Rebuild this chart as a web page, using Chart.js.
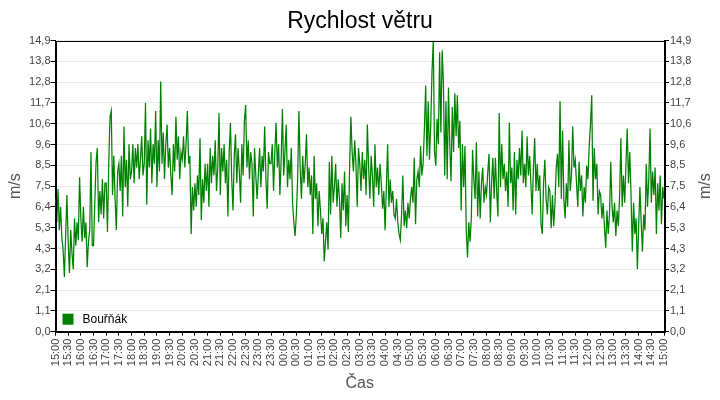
<!DOCTYPE html>
<html>
<head>
<meta charset="utf-8">
<script src="https://cdn.jsdelivr.net/npm/chart.js@4"></script>
<style>
  html, body { margin: 0; padding: 0; background: #fff; }
  #wrap { width: 720px; height: 400px; }
</style>
</head>
<body>
<div id="wrap"><canvas id="windChart" width="720" height="400"></canvas></div>
<script>
// Wind speed, 3-minute samples from 15:00 to 15:00 next day (m/s)
const speeds = [
  6.8, 5.6, 7.3, 5.2, 6.4, 4.8, 4.2, 2.8, 4.9, 7.0,
  4.6, 3.0, 5.2, 4.0, 3.2, 5.8, 4.4, 5.6, 4.7, 7.9,
  5.8, 4.6, 6.4, 4.8, 5.6, 3.3, 4.6, 5.2, 9.2, 4.4,
  4.4, 6.6, 8.7, 9.4, 5.6, 7.2, 6.0, 7.8, 5.8, 7.6,
  7.6, 5.1, 8.6, 11.0, 11.3, 7.0, 9.0, 6.8, 5.2, 8.2,
  8.6, 7.2, 9.0, 5.9, 10.5, 7.4, 8.8, 6.4, 9.6, 7.8,
  8.2, 9.6, 7.6, 9.4, 8.4, 9.6, 7.8, 8.8, 10.0, 8.0,
  8.6, 11.7, 6.5, 9.8, 8.4, 10.4, 7.6, 9.6, 8.6, 11.3,
  7.4, 9.8, 8.2, 12.8, 8.6, 10.2, 7.8, 9.6, 10.6, 8.4,
  9.4, 8.0, 7.0, 9.6, 8.2, 11.0, 8.8, 10.0, 7.8, 9.2,
  8.8, 10.0, 8.4, 9.6, 11.3, 8.6, 9.0, 5.0, 7.4, 6.2,
  7.6, 6.4, 8.0, 7.0, 9.9, 5.7, 7.8, 6.6, 8.6, 7.2,
  8.6, 6.4, 9.4, 7.6, 9.0, 8.0, 9.8, 7.2, 8.4, 11.2,
  7.0, 9.4, 8.2, 9.6, 7.6, 8.8, 5.9, 9.2, 10.7, 7.8,
  6.2, 9.0, 10.1, 7.6, 9.4, 8.2, 6.6, 9.6, 8.0, 10.8,
  11.6, 8.4, 9.8, 7.8, 9.2, 8.6, 5.9, 9.4, 8.0, 6.8,
  8.0, 9.4, 7.4, 9.0, 8.2, 10.5, 7.8, 6.3, 9.2, 8.6,
  8.6, 9.6, 7.2, 9.2, 10.7, 8.4, 9.6, 7.0, 8.8, 11.4,
  8.0, 9.2, 10.6, 7.4, 8.8, 7.8, 9.4, 6.6, 5.6, 4.9,
  6.0, 7.8, 11.3, 8.4, 6.8, 9.0, 7.6, 8.6, 10.1, 7.4,
  8.4, 7.0, 8.0, 5.0, 9.0, 6.8, 7.6, 5.4, 7.2, 6.2,
  5.0, 5.8, 3.6, 4.6, 5.6, 4.2, 8.7, 6.0, 9.0, 6.6,
  7.4, 8.6, 6.4, 7.8, 6.8, 4.8, 7.6, 6.2, 8.2, 5.4,
  7.0, 5.1, 8.4, 11.0, 9.2, 8.2, 9.8, 8.6, 6.4, 9.4,
  8.6, 7.2, 9.2, 7.8, 8.8, 7.0, 10.6, 8.4, 6.8, 9.0,
  8.0, 6.4, 9.6, 7.4, 8.4, 7.0, 8.6, 7.6, 6.3, 7.2,
  5.2, 7.4, 9.6, 6.4, 7.8, 6.6, 7.2, 6.0, 5.8, 6.8,
  5.6, 5.0, 4.7, 6.0, 8.0, 5.4, 6.2, 5.3, 6.6, 5.8,
  6.8, 7.4, 6.6, 8.9, 5.5, 7.8, 8.2, 7.4, 9.5, 8.0,
  8.6, 10.4, 12.6, 9.0, 11.8, 8.8, 10.6, 13.3, 14.9, 9.2,
  8.5, 10.9, 9.6, 14.3, 10.2, 14.4, 12.7, 8.0, 11.8, 7.8,
  12.5, 9.6, 7.7, 11.5, 9.2, 12.2, 10.0, 12.1, 9.4, 10.8,
  6.2, 9.6, 7.4, 9.5, 5.2, 3.8, 5.6, 4.6, 5.8, 9.3,
  7.8, 6.8, 9.7, 5.9, 8.2, 5.8, 7.6, 8.4, 6.6, 7.4,
  7.0, 8.2, 9.1, 5.6, 7.6, 8.9, 6.8, 8.9, 7.2, 5.9,
  11.2, 7.4, 9.6, 7.8, 8.6, 7.2, 8.2, 6.4, 10.7, 7.6,
  8.4, 6.2, 9.2, 6.0, 8.8, 7.8, 9.4, 8.0, 10.3, 7.6,
  8.6, 7.4, 10.0, 8.0, 9.0, 7.6, 6.0, 8.4, 9.9, 7.2,
  8.6, 7.2, 8.0, 5.5, 5.0, 7.6, 8.8, 6.8, 6.0, 7.4,
  7.2, 5.3, 7.0, 5.4, 6.6, 8.4, 9.1, 7.4, 11.8, 6.8,
  10.3, 6.8, 5.8, 7.6, 6.4, 9.8, 7.2, 8.0, 10.5, 8.4,
  8.8, 7.6, 6.4, 8.7, 7.2, 8.0, 5.9, 7.4, 6.6, 8.5,
  7.8, 9.5, 10.6, 12.1, 6.7, 9.4, 7.8, 8.6, 6.0, 7.2,
  7.0, 5.8, 6.6, 5.4, 4.3, 6.2, 5.0, 6.0, 8.7, 6.4,
  5.6, 6.6, 4.9, 6.2, 5.4, 7.0, 9.9, 6.4, 8.0, 6.6,
  8.6, 10.4, 7.6, 9.2, 7.0, 4.1, 6.6, 5.0, 5.8, 3.2,
  5.4, 7.4, 5.6, 4.1, 6.0, 5.2, 8.6, 6.4, 7.8, 10.4,
  6.6, 8.2, 7.0, 8.4, 5.0, 7.6, 6.2, 8.0, 5.5, 7.4,
  6.8
];

// x tick labels every 30 minutes
const timeLabels = [
  "15:00", "15:30", "16:00", "16:30", "17:00", "17:30", "18:00", "18:30",
  "19:00", "19:30", "20:00", "20:30", "21:00", "21:30", "22:00", "22:30",
  "23:00", "23:30", "00:00", "00:30", "01:00", "01:30", "02:00", "02:30",
  "03:00", "03:30", "04:00", "04:30", "05:00", "05:30", "06:00", "06:30",
  "07:00", "07:30", "08:00", "08:30", "09:00", "09:30", "10:00", "10:30",
  "11:00", "11:30", "12:00", "12:30", "13:00", "13:30", "14:00", "14:30",
  "15:00"
];

// y tick labels (evenly spaced from 0 to max)
const yTickLabels = [
  "0,0", "1,1", "2,1", "3,2", "4,3", "5,3", "6,4", "7,5",
  "8,5", "9,6", "10,6", "11,7", "12,8", "13,8", "14,9"
];
const yMax = 14.9;
const stationName = "Bouřňák";

const FONT = "'Liberation Sans', Arial, sans-serif";
const lastIndex = speeds.length - 1;
const xStep = lastIndex / (timeLabels.length - 1);

function setYTicks(scale) {
  scale.ticks = yTickLabels.map((_, i) => ({ value: (i * yMax) / (yTickLabels.length - 1) }));
}

// Draws the black frame, the right axis title and the inner legend
const framePlugin = {
  id: "frame",
  afterDraw(chart) {
    const ctx = chart.ctx;
    const a = chart.chartArea;
    ctx.save();
    ctx.strokeStyle = "#000";
    ctx.lineWidth = 1;
    ctx.strokeRect(Math.round(a.left) + 0.5, Math.round(a.top) + 0.5,
      Math.round(a.right - a.left), Math.round(a.bottom - a.top));

    // right axis title, same reading direction as the left one
    ctx.fillStyle = "#555";
    ctx.font = "16px " + FONT;
    ctx.textAlign = "center";
    ctx.textBaseline = "middle";
    ctx.translate(706, (a.top + a.bottom) / 2);
    ctx.rotate(-Math.PI / 2);
    ctx.fillText("m/s", 0, 0);
    ctx.restore();

    // legend inside the plot
    const ds = chart.data.datasets[0];
    ctx.save();
    ctx.fillStyle = ds.borderColor;
    ctx.fillRect(a.left + 7, a.bottom - 18, 11, 11);
    ctx.fillStyle = "#000";
    ctx.font = "12px " + FONT;
    ctx.textBaseline = "middle";
    ctx.fillText(ds.label, a.left + 27, a.bottom - 12.5);
    ctx.restore();
  },
};

const ctx = document.getElementById("windChart").getContext("2d");
new Chart(ctx, {
  type: "line",
  data: {
    datasets: [
      {
        label: stationName,
        data: speeds.map((v, i) => ({ x: i, y: v })),
        borderColor: "#008000",
        backgroundColor: "#008000",
        borderWidth: 1.25,
        pointRadius: 0,
        tension: 0,
        fill: false,
      },
    ],
  },
  options: {
    responsive: false,
    animation: false,
    layout: { padding: 0 },
    scales: {
      x: {
        type: "linear",
        min: 0,
        max: lastIndex,
        afterBuildTicks(scale) {
          scale.ticks = timeLabels.map((_, i) => ({ value: i * xStep }));
        },
        afterFit(scale) {
          scale.height = 68.3;
        },
        ticks: {
          autoSkip: false,
          minRotation: 90,
          maxRotation: 90,
          padding: 3,
          color: "#444",
          font: { family: FONT, size: 11 },
          callback: (value, index) => timeLabels[index],
        },
        grid: { drawOnChartArea: false, tickLength: 4, tickColor: "#000" },
        border: { color: "#000" },
        title: {
          display: true,
          text: "Čas",
          color: "#555",
          font: { family: FONT, size: 16 },
          padding: { top: 0, bottom: 7 },
        },
      },
      y: {
        type: "linear",
        position: "left",
        min: 0,
        max: yMax,
        afterBuildTicks: setYTicks,
        afterFit(scale) {
          scale.width = 55.5;
        },
        ticks: {
          autoSkip: false,
          padding: 0,
          color: "#444",
          font: { family: FONT, size: 11 },
          callback: (value, index) => yTickLabels[index],
        },
        grid: { color: "#e9e9e9", tickLength: 5, tickColor: "#000" },
        border: { color: "#000" },
        title: {
          display: true,
          text: "m/s",
          color: "#555",
          font: { family: FONT, size: 16 },
          padding: { top: 6, bottom: 0 },
        },
      },
      y1: {
        type: "linear",
        position: "right",
        display: true,
        min: 0,
        max: yMax,
        afterBuildTicks: setYTicks,
        afterFit(scale) {
          scale.width = 56;
        },
        ticks: {
          autoSkip: false,
          padding: 1,
          color: "#444",
          font: { family: FONT, size: 11 },
          callback: (value, index) => yTickLabels[index],
        },
        grid: { drawOnChartArea: false, tickLength: 5, tickColor: "#000" },
        border: { color: "#000" },
      },
    },
    plugins: {
      legend: { display: false },
      tooltip: { enabled: false },
      title: {
        display: true,
        text: "Rychlost větru",
        color: "#000",
        font: { family: FONT, size: 23, weight: "normal" },
        padding: { top: 8, bottom: 5 },
      },
    },
  },
  plugins: [framePlugin],
});
</script>
</body>
</html>
